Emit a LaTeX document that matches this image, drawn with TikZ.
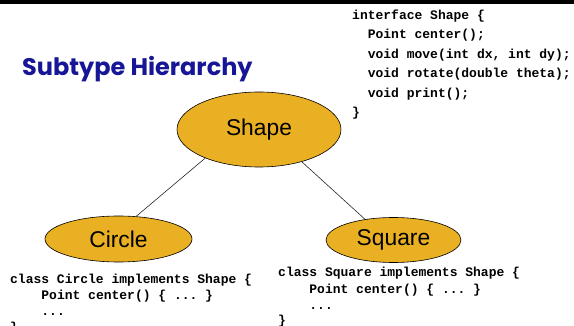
\documentclass[tikz,border=0pt]{standalone}
\usepackage{fontspec}
\setmainfont{Liberation Sans}
\setmonofont{Liberation Mono}
\newfontfamily\titlefont{Poppins}
\usetikzlibrary{shapes.geometric}
\definecolor{typegold}{RGB}{234,176,36}
\definecolor{titleblue}{RGB}{22,22,150}

\begin{document}
\begin{tikzpicture}[x=1pt,y=-1pt,
  typenode/.style={ellipse, draw=black, line width=0.6pt, fill=typegold,
    inner sep=0pt, font=\fontsize{22.8}{26}\selectfont},
  % code blocks are placed by the baseline of their last line
  code/.style={anchor=base west, align=left, inner sep=0pt,
    font=\ttfamily\bfseries\fontsize{13}{#1}\selectfont},
  link/.style={draw=black!85, line width=0.6pt}]
\useasboundingbox (0,0) rectangle (574,326);
\clip (0,0) rectangle (574,326);

% heavy rule across the top
\fill[black] (0,0) rectangle (574,4);

% title
\node[anchor=base west, inner sep=0pt, text=titleblue,
  font=\titlefont\bfseries\fontsize{24}{28}\selectfont] (title) at (22,76) {Subtype Hierarchy};

% type hierarchy
\node[typenode, minimum width=164, minimum height=75] (shape) at (259,129.5) {Shape};
\node[typenode, minimum width=147, minimum height=46] (circle) at (118.5,239) {Circle};
\node[typenode, minimum width=135, minimum height=45] (square) at (393.5,240) {Square};

\draw[link] (shape.208) -- (circle.52);
\draw[link] (shape.-37) -- (square.144);

% interface declaration
\node[code=19.4] (iface) at (352,116.5) {interface Shape \{\\
\ \ Point center();\\
\ \ void move(int dx, int dy);\\
\ \ void rotate(double theta);\\
\ \ void print();\\
\}};

% implementing classes
\node[code=16] (circlecode) at (10,331) {class Circle implements Shape \{\\
\ \ \ \ Point center() \{ ... \}\\
\ \ \ \ ...\\
\}};
\node[code=16] (squarecode) at (278,325) {class Square implements Shape \{\\
\ \ \ \ Point center() \{ ... \}\\
\ \ \ \ ...\\
\}};
\end{tikzpicture}
\end{document}
